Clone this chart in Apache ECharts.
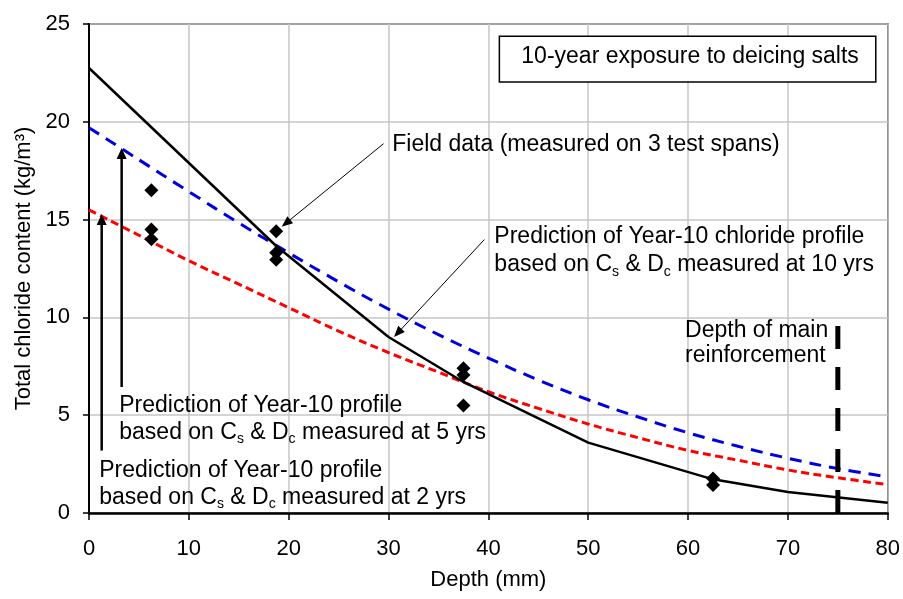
<!DOCTYPE html>
<html>
<head>
<meta charset="utf-8">
<script src="https://cdn.jsdelivr.net/npm/echarts@6/dist/echarts.min.js"></script>
<style>
  html, body { margin: 0; padding: 0; background: #fff; }
  #chart { width: 903px; height: 599px; }
</style>
</head>
<body>
<div id="chart"></div>
<script>
const FONT = "'Liberation Sans', Arial, Helvetica, sans-serif";

// Depths (mm) at which the predicted profiles are tabulated
const predDepth = [0, 5, 10, 15, 20, 25, 30, 35, 40, 45, 50, 55, 60, 65, 70, 75, 80];
// Year-10 profile predicted from Cs & Dc measured at 5 years (kg/m3)
const pred5yr = [19.7, 18.06, 16.43, 14.83, 13.3, 11.82, 10.42, 9.12, 7.92, 6.8, 5.79, 4.91, 4.1, 3.41, 2.8, 2.27, 1.85];
// Year-10 profile predicted from Cs & Dc measured at 2 years (kg/m3)
const pred2yr = [15.5, 14.2, 12.9, 11.7, 10.5, 9.3, 8.2, 7.2, 6.2, 5.35, 4.55, 3.85, 3.2, 2.7, 2.2, 1.8, 1.45];
// Year-10 profile from Cs & Dc measured at 10 years
const pred10Depth = [0, 18.75, 30, 37.5, 50, 62.5, 70, 80];
const pred10yr = [22.75, 13.65, 9.0, 6.7, 3.6, 1.72, 1.07, 0.52];
// Field data, 3 test spans
const fieldDepth = [6.25, 6.25, 6.25, 18.75, 18.75, 18.75, 37.5, 37.5, 37.5, 62.5, 62.5];
const fieldCl = [16.5, 14.5, 14.0, 14.4, 13.3, 12.95, 7.4, 7.05, 5.5, 1.77, 1.43];
// Main reinforcement depth (mm) and height of its marker line
const rebarDepth = 75;
const rebarTop = 9.6;

// Axis scales
const xMin = 0, xMax = 80, xStep = 10;
const yMin = 0, yMax = 25, yStep = 5;

const zip = (xs, ys) => xs.map((x, i) => [x, ys[i]]);

const chart = echarts.init(document.getElementById('chart'), null, { renderer: 'canvas' });

chart.setOption({
  animation: false,
  backgroundColor: '#fff',
  grid: {
    left: 89, right: 14, top: 24, bottom: 86,
    show: true, borderColor: '#000', borderWidth: 1.5, backgroundColor: 'transparent'
  },
  xAxis: {
    type: 'value', min: xMin, max: xMax, interval: xStep,
    name: 'Depth (mm)', nameLocation: 'middle', nameGap: 56,
    nameTextStyle: { fontFamily: FONT, fontSize: 22, color: '#000' },
    axisLine: { show: true, onZero: false, lineStyle: { color: '#000', width: 2.5 } },
    axisTick: { show: true, inside: false, length: 7, lineStyle: { color: '#000', width: 1.5 } },
    axisLabel: { fontFamily: FONT, fontSize: 22, color: '#000', margin: 25 },
    splitLine: { show: true, lineStyle: { color: '#c6c6c6', width: 1.5 } }
  },
  yAxis: {
    type: 'value', min: yMin, max: yMax, interval: yStep,
    name: 'Total chloride content (kg/m\u00B3)', nameLocation: 'middle', nameGap: 52,
    nameTextStyle: { fontFamily: FONT, fontSize: 22, color: '#000' },
    axisLine: { show: true, onZero: false, lineStyle: { color: '#000', width: 2 } },
    axisTick: { show: true, inside: false, length: 6, lineStyle: { color: '#000', width: 1.5 } },
    axisLabel: { fontFamily: FONT, fontSize: 22, color: '#000', margin: 19 },
    splitLine: { show: true, lineStyle: { color: '#c6c6c6', width: 1.5 } }
  },
  series: [
    {
      name: '5 yrs', type: 'line', data: zip(predDepth, pred5yr),
      smooth: 0.4, showSymbol: false, symbol: 'none',
      lineStyle: { color: '#0000dd', width: 3, type: [12, 8] }, z: 3
    },
    {
      name: '2 yrs', type: 'line', data: zip(predDepth, pred2yr),
      smooth: 0.4, showSymbol: false, symbol: 'none',
      lineStyle: { color: '#ff0000', width: 3, type: [8, 4.5] }, z: 3
    },
    {
      name: '10 yrs', type: 'line', data: zip(pred10Depth, pred10yr),
      smooth: false, showSymbol: false, symbol: 'none',
      lineStyle: { color: '#000', width: 2.5 }, z: 4
    },
    {
      name: 'Field data', type: 'scatter', data: zip(fieldDepth, fieldCl),
      symbol: 'diamond', symbolSize: 14, itemStyle: { color: '#000', opacity: 1 }, z: 5
    },
    {
      name: 'Reinforcement', type: 'line',
      data: [[rebarDepth, yMin], [rebarDepth, rebarTop]],
      showSymbol: false, symbol: 'none',
      lineStyle: { color: '#000', width: 5, type: [23, 18], cap: 'butt' }, z: 6
    }
  ]
});

// Annotation layer placed in data coordinates
const P = (x, y) => chart.convertToPixel({ gridIndex: 0 }, [x, y]);

const rich = (lh) => ({
  sub: { fontFamily: FONT, fontSize: 14, fill: '#000', verticalAlign: 'bottom', lineHeight: lh - 12 }
});

function label(x, y, text, lh, align) {
  const p = P(x, y);
  return {
    type: 'text', z: 20,
    style: {
      x: p[0], y: p[1] - lh / 2,
      text: text, fill: '#000',
      fontFamily: FONT, fontSize: 23, lineHeight: lh,
      align: align || 'left', verticalAlign: 'top',
      rich: rich(lh)
    }
  };
}

function arrow(x1, y1, x2, y2, lw, headLen, headW) {
  const a = P(x1, y1), b = P(x2, y2);
  const dx = b[0] - a[0], dy = b[1] - a[1];
  const len = Math.hypot(dx, dy);
  const ux = dx / len, uy = dy / len;
  const bx = b[0] - ux * headLen, by = b[1] - uy * headLen;
  const nx = -uy, ny = ux;
  return [
    {
      type: 'line', z: 20,
      shape: { x1: a[0], y1: a[1], x2: bx + ux, y2: by + uy },
      style: { stroke: '#000', lineWidth: lw }
    },
    {
      type: 'polygon', z: 20,
      shape: { points: [[b[0], b[1]], [bx + nx * headW / 2, by + ny * headW / 2], [bx - nx * headW / 2, by - ny * headW / 2]] },
      style: { fill: '#000' }
    }
  ];
}

const boxTL = P(41.1, 24.38), boxBR = P(78.8, 22.03);

const graphics = [
  {
    type: 'rect', z: 19,
    shape: { x: boxTL[0], y: boxTL[1], width: boxBR[0] - boxTL[0], height: boxBR[1] - boxTL[1] },
    style: { fill: '#fff', stroke: '#000', lineWidth: 1.5 }
  },
  label(43.3, 23.31, '10-year exposure to deicing salts', 27),
  label(30.37, 18.81, 'Field data (measured on 3 test spans)', 27),
  label(40.6, 14.13, 'Prediction of Year-10 chloride profile\nbased on C{sub|s} & D{sub|c} measured at 10 yrs', 28.3),
  label(3.03, 5.47, 'Prediction of Year-10 profile\nbased on C{sub|s} & D{sub|c} measured at 5 yrs', 26.7),
  label(1.03, 2.16, 'Prediction of Year-10 profile\nbased on C{sub|s} & D{sub|c} measured at 2 yrs', 26.7),
  label(59.7, 9.32, 'Depth of main\nreinforcement', 25.3),
  ...arrow(29.5, 18.88, 19.3, 14.64, 1, 11, 9),
  ...arrow(39.6, 13.98, 30.55, 9.0, 1, 11, 9),
  ...arrow(3.27, 6.44, 3.27, 18.66, 2.5, 11, 10),
  ...arrow(1.27, 3.19, 1.27, 15.29, 2.5, 11, 10)
];

chart.setOption({ graphic: graphics });
</script>
</body>
</html>
